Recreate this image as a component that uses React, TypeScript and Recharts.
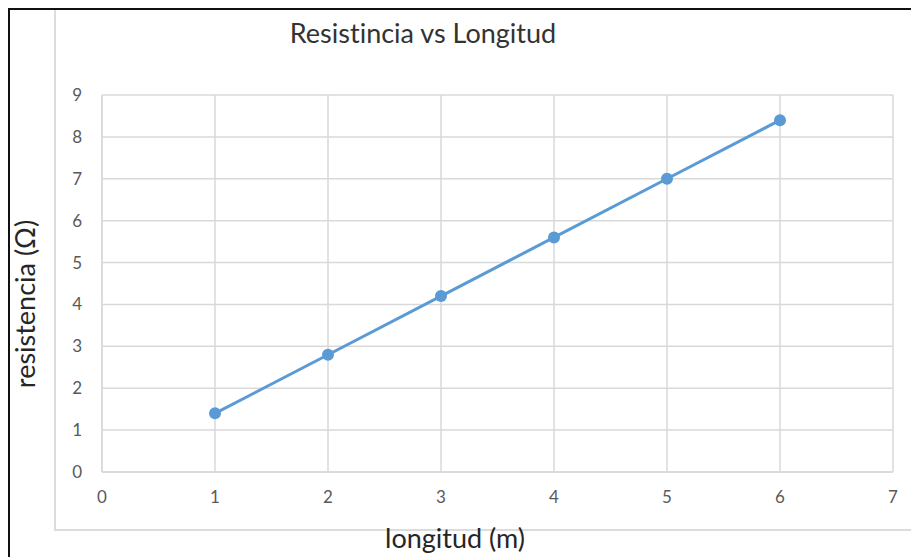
import { CartesianGrid, Line, LineChart, XAxis, YAxis } from "recharts";

const longitudes = [1, 2, 3, 4, 5, 6];
const resistencias = [1.4, 2.8, 4.2, 5.6, 7, 8.4];
const xTicks = [0, 1, 2, 3, 4, 5, 6, 7];
const yTicks = [0, 1, 2, 3, 4, 5, 6, 7, 8, 9];

const data = longitudes.map((x, i) => ({ x, y: resistencias[i] }));

const font = "Lato, 'Open Sans', sans-serif";
const tick = { fill: "#595959", fontSize: 17, fontFamily: font };

const label = {
  position: "absolute" as const,
  width: 240,
  textAlign: "center" as const,
  fontFamily: font,
  fontSize: 27,
  lineHeight: "32px",
  fontVariantLigatures: "none" as const
};

export default function App() {
  return (
    <div style={{ position: "relative", width: 911, height: 549, overflow: "hidden", background: "#fff" }}>
      <div
        style={{
          position: "absolute",
          left: 0,
          top: 0,
          width: 911,
          height: 549,
          boxSizing: "border-box",
          borderTop: "2px solid #111",
          borderLeft: "2px solid #111"
        }}
      />
      <div
        style={{
          position: "absolute",
          left: 46,
          top: 2,
          width: 900,
          height: 521,
          boxSizing: "border-box",
          borderLeft: "2px solid #dcdcdc",
          borderBottom: "2px solid #dcdcdc"
        }}
      />
      <div style={{ ...label, left: 0, width: 830, top: 9, color: "#333" }}>Resistincia vs Longitud</div>
      <div style={{ ...label, left: 17 - 120, top: 296 - 16, color: "#262626", transform: "rotate(-90deg)" }}>
        resistencia (Ω)
      </div>
      <div style={{ ...label, left: 447 - 120, top: 530 - 16, color: "#262626" }}>longitud (m)</div>
      <div style={{ position: "absolute", left: 0, top: 0 }}>
        <LineChart width={911} height={549} data={data} margin={{ top: 87, right: 26, bottom: 55, left: 54 }}>
          <CartesianGrid stroke="#d9d9d9" strokeWidth={1.5} />
          <XAxis
            dataKey="x"
            type="number"
            domain={[0, 7]}
            ticks={xTicks}
            tickLine={false}
            axisLine={{ stroke: "#d9d9d9", strokeWidth: 1.5 }}
            tick={tick}
            tickMargin={13}
            height={30}
          />
          <YAxis
            type="number"
            domain={[0, 9]}
            ticks={yTicks}
            tickLine={false}
            axisLine={{ stroke: "#d9d9d9", strokeWidth: 1.5 }}
            tick={tick}
            tickMargin={14}
            width={40}
          />
          <Line
            dataKey="y"
            stroke="#5b9bd5"
            strokeWidth={3}
            dot={{ r: 6, fill: "#5b9bd5", stroke: "none" }}
            isAnimationActive={false}
          />
        </LineChart>
      </div>
    </div>
  );
}
